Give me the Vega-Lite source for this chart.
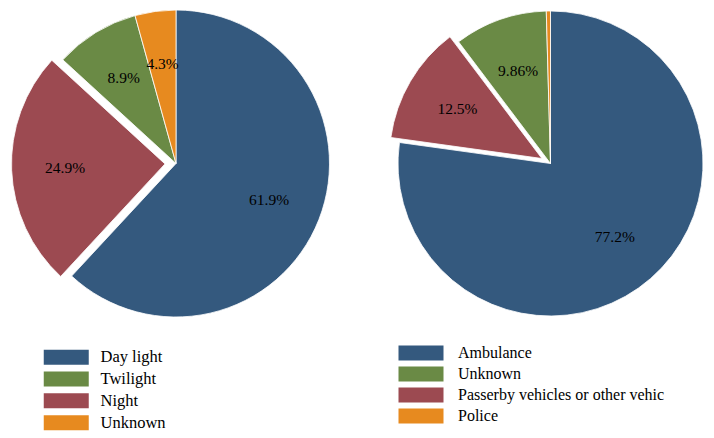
{
  "$schema": "https://vega.github.io/schema/vega-lite/v6.json",
  "padding": 0,
  "autosize": {"type": "pad"},
  "background": "white",
  "config": {"view": {"stroke": null}, "font": "Liberation Serif"},
  "spacing": 22,
  "resolve": {"scale": {"color": "independent", "theta": "independent"}},
  "hconcat": [
    {
      "width": 352,
      "height": 327,
      "data": {"values": [
        {"cat": "Day light", "value": 61.9, "ord": 1, "label": "61.9%"},
        {"cat": "Night", "value": 24.9, "ord": 2, "label": "24.9%"},
        {"cat": "Twilight", "value": 8.9, "ord": 3, "label": "8.9%"},
        {"cat": "Unknown", "value": 4.3, "ord": 4, "label": "4.3%"}
      ]},
      "encoding": {
        "theta": {"field": "value", "type": "quantitative", "stack": true},
        "order": {"field": "ord", "type": "quantitative"},
        "color": {
          "field": "cat", "type": "nominal",
          "scale": {"domain": ["Day light", "Twilight", "Night", "Unknown"], "range": ["#34597e", "#6a8a45", "#9c4a51", "#e78a1f"]},
          "legend": {"title": null, "orient": "none", "legendX": 58, "legendY": 349, "symbolType": "M-3,-1H3V1H-3Z", "symbolSize": 225, "symbolStrokeWidth": 0, "symbolOpacity": 1, "labelFont": "Liberation Serif", "labelFontSize": 16.5, "labelOffset": 26, "rowPadding": 4.8, "labelColor": "black", "padding": 0}
        }
      },
      "layer": [
        {"mark": {"type": "arc", "outerRadius": 153.5, "stroke": "white", "strokeWidth": 0.8},
         "encoding": {"opacity": {"condition": {"test": "datum.cat === 'Night'", "value": 0}, "value": 1}}},
        {"mark": {"type": "arc", "outerRadius": 153.5, "stroke": "white", "strokeWidth": 0.8, "xOffset": -11, "yOffset": 0.4},
         "encoding": {"opacity": {"condition": {"test": "datum.cat === 'Night'", "value": 1}, "value": 0}}},
        {"mark": {"type": "text", "radius": 100, "fontSize": 15.5, "font": "Liberation Serif", "color": "black"},
         "encoding": {"text": {"field": "label"}, "color": {"value": "black"}, "opacity": {"condition": {"test": "datum.cat === 'Night'", "value": 0}, "value": 1}}},
        {"mark": {"type": "text", "radius": 100, "fontSize": 15.5, "font": "Liberation Serif", "color": "black", "xOffset": -11, "yOffset": 0.4},
         "encoding": {"text": {"field": "label"}, "color": {"value": "black"}, "opacity": {"condition": {"test": "datum.cat === 'Night'", "value": 1}, "value": 0}}}
      ]
    },
    {
      "width": 353,
      "height": 327,
      "data": {"values": [
        {"cat": "Ambulance", "value": 77.2, "ord": 1, "label": "77.2%"},
        {"cat": "Passerby vehicles or other vehic", "value": 12.5, "ord": 2, "label": "12.5%"},
        {"cat": "Unknown", "value": 9.86, "ord": 3, "label": "9.86%"},
        {"cat": "Police", "value": 0.44, "ord": 4, "label": ""}
      ]},
      "encoding": {
        "theta": {"field": "value", "type": "quantitative", "stack": true},
        "order": {"field": "ord", "type": "quantitative"},
        "color": {
          "field": "cat", "type": "nominal",
          "scale": {"domain": ["Ambulance", "Unknown", "Passerby vehicles or other vehic", "Police"], "range": ["#34597e", "#6a8a45", "#9c4a51", "#e78a1f"]},
          "legend": {"title": null, "orient": "none", "legendX": 39, "legendY": 345, "symbolType": "M-3,-1H3V1H-3Z", "symbolSize": 225, "symbolStrokeWidth": 0, "symbolOpacity": 1, "labelFont": "Liberation Serif", "labelFontSize": 16, "labelOffset": 29, "rowPadding": 5, "labelColor": "black", "padding": 0, "labelLimit": 400}
        }
      },
      "layer": [
        {"mark": {"type": "arc", "outerRadius": 152.5, "stroke": "white", "strokeWidth": 0.8},
         "encoding": {"opacity": {"condition": {"test": "datum.ord === 2", "value": 0}, "value": 1}}},
        {"mark": {"type": "arc", "outerRadius": 152.5, "stroke": "white", "strokeWidth": 0.8, "xOffset": -8.6, "yOffset": -5},
         "encoding": {"opacity": {"condition": {"test": "datum.ord === 2", "value": 1}, "value": 0}}},
        {"mark": {"type": "text", "radius": 98, "fontSize": 15.5, "font": "Liberation Serif", "color": "black"},
         "encoding": {"text": {"field": "label"}, "color": {"value": "black"}, "opacity": {"condition": {"test": "datum.ord === 2", "value": 0}, "value": 1}}},
        {"mark": {"type": "text", "radius": 98, "fontSize": 15.5, "font": "Liberation Serif", "color": "black", "xOffset": -8.6, "yOffset": -5},
         "encoding": {"text": {"field": "label"}, "color": {"value": "black"}, "opacity": {"condition": {"test": "datum.ord === 2", "value": 1}, "value": 0}}}
      ]
    }
  ]
}
